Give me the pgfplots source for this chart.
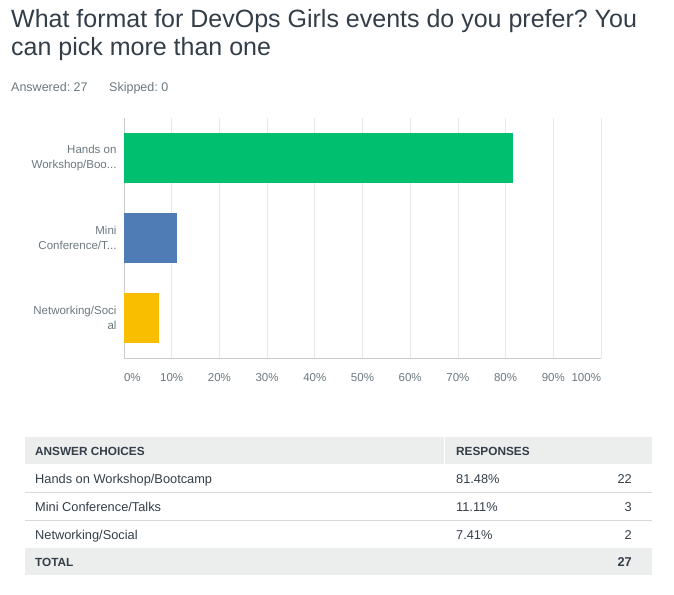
\documentclass[border=0pt]{standalone}
\usepackage{pgfplots}
\pgfplotsset{compat=1.18}
\usepackage{fontspec}
\setmainfont{Liberation Sans}
\frenchspacing
\definecolor{titlec}{HTML}{333E48}
\definecolor{subc}{HTML}{6B787F}
\definecolor{tickc}{HTML}{6B787F}
\definecolor{gridc}{HTML}{E6E8E9}
\definecolor{axisc}{HTML}{C8CBCD}
\definecolor{bandc}{HTML}{ECEDED}
\definecolor{sepc}{HTML}{D6D8DA}
\definecolor{cgreen}{HTML}{00BF6F}
\definecolor{cblue}{HTML}{507CB6}
\definecolor{cyellow}{HTML}{F9BE00}
\newcommand{\tdots}{.\kern0pt.\kern0pt.}
\begin{document}
\begin{tikzpicture}[x=1pt,y=-1pt]
\useasboundingbox (0,0) rectangle (674,594);
% title
\node[anchor=base west,inner sep=0,text=titlec,font=\fontsize{25}{29}\selectfont] at (11,28) {What format for DevOps Girls events do you prefer? You};
\node[anchor=base west,inner sep=0,text=titlec,font=\fontsize{25}{29}\selectfont] at (11,56) {can pick more than one};
\node[anchor=base west,inner sep=0,text=subc,font=\fontsize{12.5}{14}\selectfont] at (11,91) {Answered: 27};
\node[anchor=base west,inner sep=0,text=subc,font=\fontsize{12.5}{14}\selectfont] at (109,91) {Skipped: 0};
% chart
\begin{axis}[
  at={(124pt,-358pt)}, anchor=south west,
  scale only axis, width=477pt, height=240pt,
  xbar, xmin=0, xmax=100, ymin=-0.5, ymax=2.5, y dir=reverse,
  bar width=50pt,
  axis x line*=bottom, axis y line*=left,
  axis line style={axisc,-, line width=1pt},
  xmajorgrids, grid style={gridc, line width=0.8pt},
  major tick length=0pt,
  xtick={0,10,20,30,40,50,60,70,80,90,100},
  xticklabels={{\makebox[0pt][l]{0\%}},10\%,20\%,30\%,40\%,50\%,60\%,70\%,80\%,90\%,{\makebox[0pt][r]{100\%}}},
  xticklabel style={text=tickc,font=\fontsize{11.5}{14}\selectfont,yshift=-12pt},
  ytick={0,1,2},
  yticklabels={{Hands on\\Workshop/Boo\tdots},{Mini\\Conference/T\tdots},{Networking/Soci\\al}},
  yticklabel style={text=tickc,font=\fontsize{11.5}{15}\selectfont,align=right,xshift=-4pt},
  /pgf/number format/assume math mode=true,
]
\addplot[fill=cgreen,draw=none,bar shift=0pt] coordinates {(81.48,0)};
\addplot[fill=cblue,draw=none,bar shift=0pt] coordinates {(11.11,1)};
\addplot[fill=cyellow,draw=none,bar shift=0pt] coordinates {(7.41,2)};
\end{axis}
% table
\fill[bandc] (25,437) rectangle (652,464);
\fill[white] (443.5,437) rectangle (445,464);
\fill[bandc] (25,548) rectangle (652,575);
\draw[sepc,line width=1pt] (25,492) -- (652,492);
\draw[sepc,line width=1pt] (25,520) -- (652,520);
\begin{scope}[every node/.style={inner sep=0,text=titlec,font=\fontsize{12.8}{14}\selectfont}]
\node[anchor=base west,font=\fontsize{11.8}{14}\selectfont\bfseries] at (35,455) {ANSWER CHOICES};
\node[anchor=base west,font=\fontsize{11.8}{14}\selectfont\bfseries] at (456,455) {RESPONSES};
\node[anchor=base west] at (35,483) {Hands on Workshop/Bootcamp};
\node[anchor=base west] at (456,483) {81.48\%};
\node[anchor=base east] at (632,483) {22};
\node[anchor=base west] at (35,511) {Mini Conference/Talks};
\node[anchor=base west] at (456,511) {11.11\%};
\node[anchor=base east] at (632,511) {3};
\node[anchor=base west] at (35,539) {Networking/Social};
\node[anchor=base west] at (456,539) {7.41\%};
\node[anchor=base east] at (632,539) {2};
\node[anchor=base west,font=\fontsize{11.8}{14}\selectfont\bfseries] at (35,566) {TOTAL};
\node[anchor=base east,font=\fontsize{12.8}{14}\selectfont\bfseries] at (632,566) {27};
\end{scope}
\end{tikzpicture}
\end{document}
